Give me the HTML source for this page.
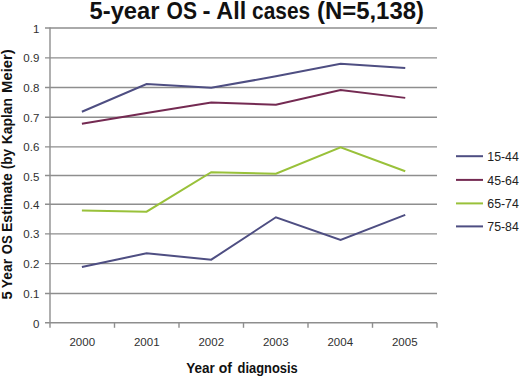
<!DOCTYPE html><html><head><meta charset="utf-8"><style>html,body{margin:0;padding:0;background:#fff;width:520px;height:376px;overflow:hidden}svg{display:block}text{font-family:"Liberation Sans",sans-serif}</style></head><body>
<svg width="520" height="376" viewBox="0 0 520 376">
<rect width="520" height="376" fill="#fff"/>
<line x1="45" y1="293.45" x2="437.00" y2="293.45" stroke="#8e8e8e" stroke-width="1.4"/>
<line x1="45" y1="263.60" x2="437.00" y2="263.60" stroke="#8e8e8e" stroke-width="1.4"/>
<line x1="45" y1="233.85" x2="437.00" y2="233.85" stroke="#8e8e8e" stroke-width="1.4"/>
<line x1="45" y1="204.30" x2="437.00" y2="204.30" stroke="#8e8e8e" stroke-width="1.4"/>
<line x1="45" y1="175.45" x2="437.00" y2="175.45" stroke="#8e8e8e" stroke-width="1.4"/>
<line x1="45" y1="146.90" x2="437.00" y2="146.90" stroke="#8e8e8e" stroke-width="1.4"/>
<line x1="45" y1="117.25" x2="437.00" y2="117.25" stroke="#8e8e8e" stroke-width="1.4"/>
<line x1="45" y1="87.45" x2="437.00" y2="87.45" stroke="#8e8e8e" stroke-width="1.4"/>
<line x1="45" y1="57.84" x2="437.00" y2="57.84" stroke="#8e8e8e" stroke-width="1.4"/>
<line x1="45" y1="28.07" x2="437.00" y2="28.07" stroke="#8e8e8e" stroke-width="1.4"/>
<line x1="50.0" y1="27.50" x2="50.0" y2="327.80" stroke="#8e8e8e" stroke-width="1.4"/>
<line x1="45" y1="322.80" x2="437.00" y2="322.80" stroke="#8e8e8e" stroke-width="1.4"/>
<line x1="114.50" y1="322.80" x2="114.50" y2="327.80" stroke="#8e8e8e" stroke-width="1.4"/>
<line x1="179.00" y1="322.80" x2="179.00" y2="327.80" stroke="#8e8e8e" stroke-width="1.4"/>
<line x1="243.50" y1="322.80" x2="243.50" y2="327.80" stroke="#8e8e8e" stroke-width="1.4"/>
<line x1="308.00" y1="322.80" x2="308.00" y2="327.80" stroke="#8e8e8e" stroke-width="1.4"/>
<line x1="372.50" y1="322.80" x2="372.50" y2="327.80" stroke="#8e8e8e" stroke-width="1.4"/>
<line x1="437.00" y1="322.80" x2="437.00" y2="327.80" stroke="#8e8e8e" stroke-width="1.4"/>
<text x="39.3" y="327.80" font-size="11.5" fill="#303030" text-anchor="end">0</text>
<text x="39.3" y="297.95" font-size="11.5" fill="#303030" text-anchor="end">0.1</text>
<text x="39.3" y="268.10" font-size="11.5" fill="#303030" text-anchor="end">0.2</text>
<text x="39.3" y="238.40" font-size="11.5" fill="#303030" text-anchor="end">0.3</text>
<text x="39.3" y="208.95" font-size="11.5" fill="#303030" text-anchor="end">0.4</text>
<text x="39.3" y="181.15" font-size="11.5" fill="#303030" text-anchor="end">0.5</text>
<text x="39.3" y="151.40" font-size="11.5" fill="#303030" text-anchor="end">0.6</text>
<text x="39.3" y="121.65" font-size="11.5" fill="#303030" text-anchor="end">0.7</text>
<text x="39.3" y="92.10" font-size="11.5" fill="#303030" text-anchor="end">0.8</text>
<text x="39.3" y="62.35" font-size="11.5" fill="#303030" text-anchor="end">0.9</text>
<text x="39.3" y="32.65" font-size="11.5" fill="#303030" text-anchor="end">1</text>
<text x="82.25" y="346.3" font-size="11.5" fill="#303030" text-anchor="middle">2000</text>
<text x="146.75" y="346.3" font-size="11.5" fill="#303030" text-anchor="middle">2001</text>
<text x="211.25" y="346.3" font-size="11.5" fill="#303030" text-anchor="middle">2002</text>
<text x="275.75" y="346.3" font-size="11.5" fill="#303030" text-anchor="middle">2003</text>
<text x="340.25" y="346.3" font-size="11.5" fill="#303030" text-anchor="middle">2004</text>
<text x="404.75" y="346.3" font-size="11.5" fill="#303030" text-anchor="middle">2005</text>
<polyline points="81.90,111.72 146.57,84.01 211.24,87.84 275.91,76.35 340.58,63.67 405.25,68.09" fill="none" stroke="#4e4e82" stroke-width="2" stroke-linejoin="miter"/>
<polyline points="81.90,123.81 146.57,112.90 211.24,102.58 275.91,104.65 340.58,89.91 405.25,97.87" fill="none" stroke="#742a52" stroke-width="2" stroke-linejoin="miter"/>
<polyline points="81.90,210.48 146.57,211.66 211.24,172.16 275.91,173.63 340.58,147.39 405.25,171.27" fill="none" stroke="#99c13a" stroke-width="2" stroke-linejoin="miter"/>
<polyline points="81.90,267.08 146.57,253.23 211.24,259.71 275.91,217.26 340.58,239.96 405.25,214.90" fill="none" stroke="#4e4e82" stroke-width="2" stroke-linejoin="miter"/>
<line x1="456" y1="156.2" x2="483" y2="156.2" stroke="#4e4e82" stroke-width="2"/>
<text x="487.3" y="161.40" font-size="13.2" fill="#222" textLength="31.5" lengthAdjust="spacingAndGlyphs">15-44</text>
<line x1="456" y1="179.9" x2="483" y2="179.9" stroke="#742a52" stroke-width="2"/>
<text x="487.3" y="185.10" font-size="13.2" fill="#222" textLength="31.5" lengthAdjust="spacingAndGlyphs">45-64</text>
<line x1="456" y1="203.4" x2="483" y2="203.4" stroke="#99c13a" stroke-width="2"/>
<text x="487.3" y="208.00" font-size="13.2" fill="#222" textLength="31.5" lengthAdjust="spacingAndGlyphs">65-74</text>
<line x1="456" y1="226.4" x2="483" y2="226.4" stroke="#4e4e82" stroke-width="2"/>
<text x="487.3" y="230.60" font-size="13.2" fill="#222" textLength="31.5" lengthAdjust="spacingAndGlyphs">75-84</text>
<text x="89.53" y="19.0" font-size="23.2" font-weight="bold" fill="#111" textLength="70.02" lengthAdjust="spacingAndGlyphs">5-year</text>
<text x="166.61" y="19.0" font-size="23.2" font-weight="bold" fill="#111" textLength="30.40" lengthAdjust="spacingAndGlyphs">OS</text>
<text x="202.59" y="19.0" font-size="23.2" font-weight="bold" fill="#111" textLength="8.03" lengthAdjust="spacingAndGlyphs">-</text>
<text x="216.37" y="19.0" font-size="23.2" font-weight="bold" fill="#111" textLength="29.78" lengthAdjust="spacingAndGlyphs">All</text>
<text x="252.11" y="19.0" font-size="23.2" font-weight="bold" fill="#111" textLength="57.97" lengthAdjust="spacingAndGlyphs">cases</text>
<text x="316.94" y="19.0" font-size="23.2" font-weight="bold" fill="#111" textLength="107.04" lengthAdjust="spacingAndGlyphs">(N=5,138)</text>
<text x="186.17" y="372.5" font-size="14.5" font-weight="bold" fill="#111" textLength="28.58" lengthAdjust="spacingAndGlyphs">Year</text>
<text x="218.72" y="372.5" font-size="14.5" font-weight="bold" fill="#111" textLength="13.22" lengthAdjust="spacingAndGlyphs">of</text>
<text x="237.54" y="372.5" font-size="14.5" font-weight="bold" fill="#111" textLength="60.16" lengthAdjust="spacingAndGlyphs">diagnosis</text>
<g transform="translate(12.2,0) rotate(-90)">
<text x="-299.41" y="0" font-size="14.5" font-weight="bold" fill="#111" textLength="8.28" lengthAdjust="spacingAndGlyphs">5</text>
<text x="-288.14" y="0" font-size="14.5" font-weight="bold" fill="#111" textLength="29.19" lengthAdjust="spacingAndGlyphs">Year</text>
<text x="-254.16" y="0" font-size="14.5" font-weight="bold" fill="#111" textLength="18.88" lengthAdjust="spacingAndGlyphs">OS</text>
<text x="-232.07" y="0" font-size="14.5" font-weight="bold" fill="#111" textLength="58.81" lengthAdjust="spacingAndGlyphs">Estimate</text>
<text x="-169.30" y="0" font-size="14.5" font-weight="bold" fill="#111" textLength="20.21" lengthAdjust="spacingAndGlyphs">(by</text>
<text x="-144.26" y="0" font-size="14.5" font-weight="bold" fill="#111" textLength="46.26" lengthAdjust="spacingAndGlyphs">Kaplan</text>
<text x="-92.92" y="0" font-size="14.5" font-weight="bold" fill="#111" textLength="43.66" lengthAdjust="spacingAndGlyphs">Meier)</text>
</g>
</svg></body></html>
